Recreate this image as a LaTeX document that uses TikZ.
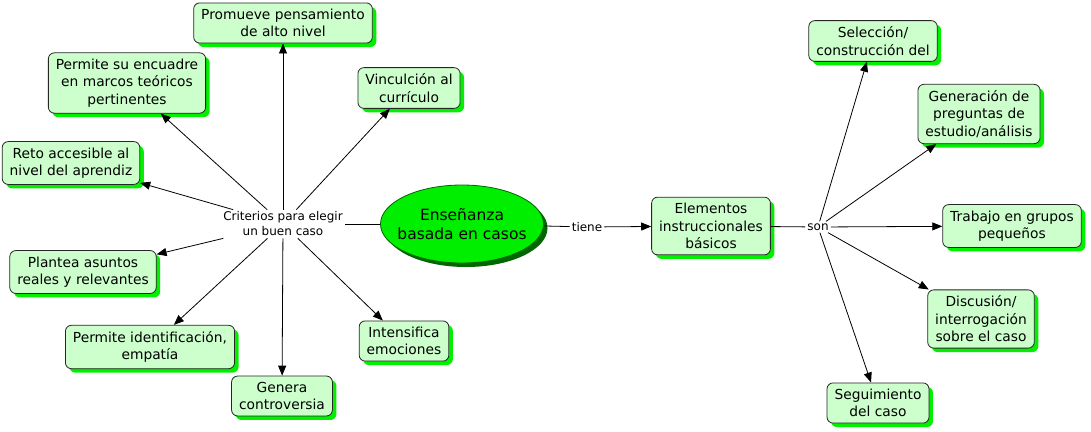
\documentclass[tikz,border=0pt]{standalone}
\usepackage{fontspec}
\setmainfont{DejaVu Sans}
\usetikzlibrary{arrows.meta,shadows,shapes.geometric}
\definecolor{boxfill}{HTML}{CCFFCC}
\definecolor{boxshadow}{HTML}{00F000}
\definecolor{mainfill}{HTML}{00EE00}
\definecolor{mainshadow}{HTML}{006600}
\tikzset{
	concept/.style={draw=black!85, line width=0.8pt, rounded corners=6pt, fill=boxfill, align=center, inner xsep=7.5pt, inner ysep=6pt, font=\fontsize{13.8}{17.5}\selectfont, general shadow={shadow xshift=4pt, shadow yshift=-4pt, fill=boxshadow}},
	mainidea/.style={ellipse, draw=mainshadow, line width=0.8pt, fill=mainfill, align=center, inner xsep=-14pt, inner ysep=0pt, minimum width=163pt, minimum height=78pt, font=\fontsize{15.5}{19}\selectfont, general shadow={shadow xshift=4pt, shadow yshift=-4pt, fill=mainshadow}},
	linking/.style={align=center, inner sep=2pt, font=\fontsize{12}{15}\selectfont},
	link/.style={draw=black, line width=0.8pt},
	arrow/.style={-{Triangle[length=10pt,width=8pt]}}
}

\begin{document}
\begin{tikzpicture}[x=1pt, y=-1pt]
		%%%%% START %%%%%
		\useasboundingbox[fill=white] (0, 0) rectangle (1091, 431);
		
		\node[concept] (promueve) at (283, 23) {Promueve pensamiento\\de alto nivel};
		\node[concept] (encuadre) at (127, 83) {Permite su encuadre\\en marcos teóricos\\pertinentes};
		\node[concept] (vincul) at (409, 88) {Vinculción al\\currículo};
		\node[concept] (reto) at (71, 163) {Reto accesible al\\nivel del aprendiz};
		\node[concept] (plantea) at (83, 272) {Plantea asuntos\\reales y relevantes};
		\node[concept] (empatia) at (150, 347) {Permite identificación,\\empatía};
		\node[concept] (genera) at (282, 396) {Genera\\controversia};
		\node[concept] (intens) at (404, 341) {Intensifica\\emociones};
		
		\node[mainidea] (ensenanza) at (462, 224) {Enseñanza\\basada en casos};
		\node[linking] (criterios) at (283, 224) {Criterios para elegir\\un buen caso};
		\node[linking] (tiene) at (587, 227) {tiene};
		
		\node[concept] (elementos) at (711, 226) {Elementos\\instruccionales\\básicos};
		\node[linking] (son) at (818, 227) {son};
		
		\node[concept] (seleccion) at (873, 41) {Selección/\\construcción del};
		\node[concept] (preguntas) at (979, 114) {Generación de\\preguntas de\\estudio/análisis};
		\node[concept] (trabajo) at (1012, 226) {Trabajo en grupos\\pequeños};
		\node[concept] (discusion) at (981, 319) {Discusión/\\interrogación\\sobre el caso};
		\node[concept] (seguimiento) at (878, 403) {Seguimiento\\del caso};
		
		% left half
		\draw[link] (ensenanza) -- (criterios);
		\foreach \target in {promueve, encuadre, vincul, reto, plantea, empatia, genera, intens}
			\draw[link, arrow] (criterios) -- (\target);
		
		% right half
		\draw[link] (ensenanza) -- (tiene);
		\draw[link, arrow] (tiene) -- (elementos);
		\draw[link] (elementos) -- (son);
		\foreach \target in {seleccion, preguntas, trabajo, discusion, seguimiento}
			\draw[link, arrow] (son) -- (\target);
		%%%%% END %%%%%
\end{tikzpicture}
\end{document}
